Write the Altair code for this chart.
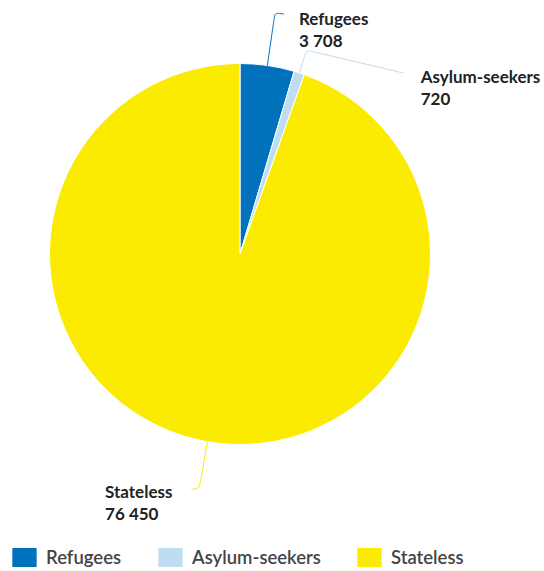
import math
import altair as alt
import pandas as pd

# ---------------- data ----------------
categories = ["Refugees", "Asylum-seekers", "Stateless"]
values = [3708, 720, 76450]
colors = ["#0072BC", "#BFDDF0", "#FAEB00"]

# ---------------- layout ----------------
W, H = 544, 571
CX, CY, R = 240, 254, 190.5
# leader line: radial length past the rim to the bend, end offset from bend,
# label offset from the leader end (first-line baseline)
leader_layout = {
    "Refugees": dict(L=53, end=(9, 1), label=(15, 11)),
    "Asylum-seekers": dict(L=24, end=(97, 23), label=(17, 10)),
    "Stateless": dict(L=47, end=(-8, 1.5), label=(-86.3, 9)),
}

total = sum(values)
rows, line_rows, label_rows = [], [], []
cum = 0.0
for i, (cat, val, col) in enumerate(zip(categories, values, colors)):
    rows.append({"category": cat, "value": val, "order": i})
    mid = (cum + val / 2) / total * 2 * math.pi
    cum += val
    ux, uy = math.sin(mid), -math.cos(mid)
    lay = leader_layout[cat]
    p0 = (CX + R * ux, CY + R * uy)
    q1 = (CX + (R + lay["L"] - 6) * ux, CY + (R + lay["L"] - 6) * uy)
    b = (CX + (R + lay["L"]) * ux, CY + (R + lay["L"]) * uy)
    e = (b[0] + lay["end"][0], b[1] + lay["end"][1])
    d = math.hypot(e[0] - b[0], e[1] - b[1])
    k = min(6, d / 2) / d
    q2 = (b[0] + (e[0] - b[0]) * k, b[1] + (e[1] - b[1]) * k)
    for j, p in enumerate([p0, q1, b, q2, e]):
        line_rows.append({"category": cat, "px": p[0], "py": p[1], "idx": j, "col": col})
    label_rows.append({
        "category": cat,
        "lx": e[0] + lay["label"][0],
        "ly": e[1] + lay["label"][1],
        "txt": f"{cat}\n{val:,}".replace(",", " "),
    })

df = pd.DataFrame(rows)
lines_df = pd.DataFrame(line_rows)
labels_df = pd.DataFrame(label_rows)

pie = alt.Chart(df).mark_arc(radius=R, stroke="white", strokeWidth=1).encode(
    theta=alt.Theta("value:Q", stack=True),
    order=alt.Order("order:Q"),
    color=alt.Color(
        "category:N",
        scale=alt.Scale(domain=categories, range=colors),
        legend=alt.Legend(
            title=None,
            orient="none",
            legendX=15,
            legendY=548,
            direction="horizontal",
            symbolType="M-1.28,-1H1.28V1H-1.28Z",
            symbolSize=361,
            symbolStrokeWidth=0,
            symbolOpacity=1,
            labelFont="Lato",
            labelFontSize=18.5,
            labelFontWeight=600,
            labelColor="#444444",
            labelOffset=12,
            columnPadding=36,
            padding=0,
        ),
    ),
    x=alt.value(CX),
    y=alt.value(CY),
)

leaders = alt.Chart(lines_df).mark_line(interpolate="basis", strokeWidth=1).encode(
    x=alt.X("px:Q", scale=None),
    y=alt.Y("py:Q", scale=None),
    detail="category:N",
    order="idx:Q",
    color=alt.Color("col:N", scale=None),
)

labels = alt.Chart(labels_df).mark_text(
    align="left",
    baseline="alphabetic",
    font="Lato",
    fontWeight="bold",
    fontSize=17,
    lineBreak="\n",
    lineHeight=22,
    color="#222222",
).encode(
    x=alt.X("lx:Q", scale=None),
    y=alt.Y("ly:Q", scale=None),
    text="txt:N",
)

chart = (
    alt.layer(pie, leaders, labels)
    .properties(width=W, height=H, padding=0, autosize="none")
    .configure_view(stroke=None)
)

chart.save("out.html", embed_options={"renderer": "svg", "actions": False})
